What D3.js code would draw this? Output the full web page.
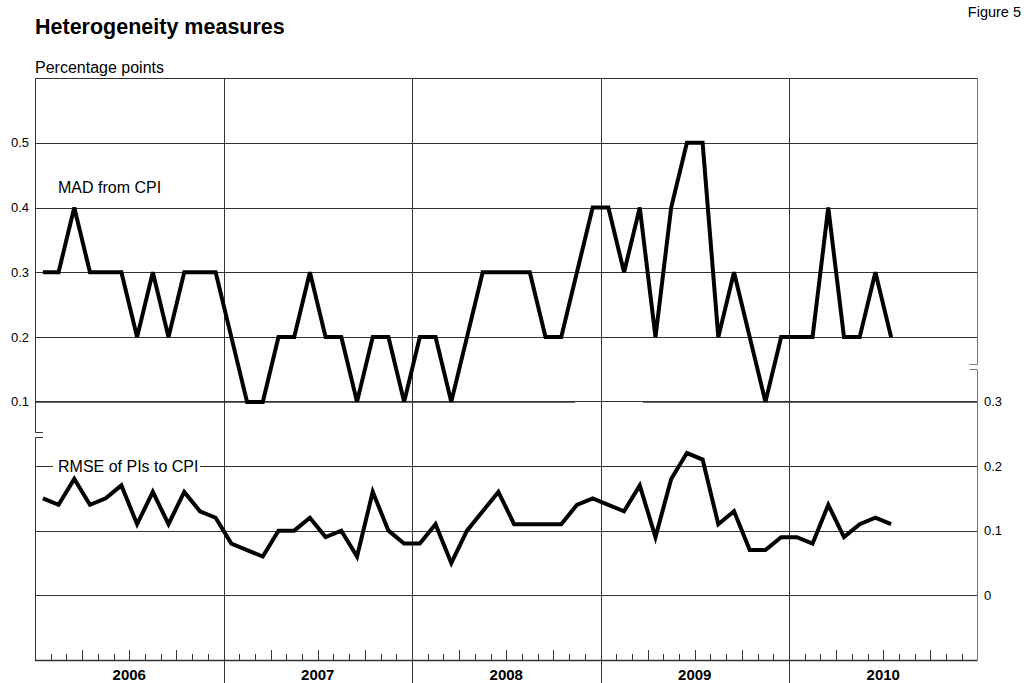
<!DOCTYPE html>
<html>
<head>
<meta charset="utf-8">
<script src="https://cdn.jsdelivr.net/npm/d3@7"></script>
<style>
  body { margin: 0; background: #fff; }
  svg { display: block; font-family: "Liberation Sans", Arial, sans-serif; }
</style>
</head>
<body>
<div id="chart"></div>
<script>
// data: monthly, Jan 2006 - Jul 2010
const YEARS = ["2006", "2007", "2008", "2009", "2010"]
const MAD = [
  0.3, 0.3, 0.4, 0.3, 0.3, 0.3, 0.2, 0.3, 0.2, 0.3, 0.3, 0.3,
  0.2, 0.1, 0.1, 0.2, 0.2, 0.3, 0.2, 0.2, 0.1, 0.2, 0.2, 0.1,
  0.2, 0.2, 0.1, 0.2, 0.3, 0.3, 0.3, 0.3, 0.2, 0.2, 0.3, 0.4,
  0.4, 0.3, 0.4, 0.2, 0.4, 0.5, 0.5, 0.2, 0.3, 0.2, 0.1, 0.2,
  0.2, 0.2, 0.4, 0.2, 0.2, 0.3, 0.2,
]
const RMSE = [
  0.15, 0.14, 0.18, 0.14, 0.15, 0.17, 0.11, 0.16, 0.11, 0.16, 0.13, 0.12,
  0.08, 0.07, 0.06, 0.10, 0.10, 0.12, 0.09, 0.10, 0.06, 0.16, 0.10, 0.08,
  0.08, 0.11, 0.05, 0.10, 0.13, 0.16, 0.11, 0.11, 0.11, 0.11, 0.14, 0.15,
  0.14, 0.13, 0.17, 0.09, 0.18, 0.22, 0.21, 0.11, 0.13, 0.07, 0.07, 0.09,
  0.09, 0.08, 0.14, 0.09, 0.11, 0.12, 0.11,
]
const LEFT_TICKS = [0.1, 0.2, 0.3, 0.4, 0.5]
const RIGHT_TICKS = [0, 0.1, 0.2, 0.3]

const width = 1024
const height = 683
const plotLeft = 35
const plotRight = 977.5
const plotTop = 78
const plotBottom = 660

const svg = d3.select("#chart").append("svg")
  .attr("width", width)
  .attr("height", height)

// scales
const x = d3.scaleLinear().domain([0, YEARS.length * 12]).range([plotLeft, plotRight])
const yL = d3.scaleLinear().domain([-0.3, 0.6]).range([661, plotTop])
const yR = d3.scaleLinear().domain([-0.1, 0.8]).range([plotBottom, plotTop])

const grid = svg.append("g").attr("stroke", "#333").attr("stroke-width", 1)

// left-scale gridlines (0.1 has a gap)
LEFT_TICKS.forEach((v) => {
  const yy = Math.round(yL(v)) + 0.5
  if (v === 0.1) {
    grid.append("line").attr("x1", plotLeft).attr("x2", 575).attr("y1", yy).attr("y2", yy).attr("stroke", "#666")
    grid.append("line").attr("x1", 643).attr("x2", plotRight).attr("y1", yy).attr("y2", yy).attr("stroke", "#666")
  } else {
    grid.append("line").attr("x1", plotLeft).attr("x2", plotRight).attr("y1", yy).attr("y2", yy)
  }
})

// right-scale gridlines (0.2 is broken by the label)
RIGHT_TICKS.forEach((v) => {
  const yy = Math.round(yR(v)) + 0.5
  if (v === 0.2) {
    grid.append("line").attr("x1", plotLeft).attr("x2", 53).attr("y1", yy).attr("y2", yy)
    grid.append("line").attr("x1", 200).attr("x2", plotRight).attr("y1", yy).attr("y2", yy)
  } else {
    grid.append("line").attr("x1", plotLeft).attr("x2", plotRight).attr("y1", yy).attr("y2", yy)
  }
})

// year separators
d3.range(1, YEARS.length).forEach((k) => {
  const xx = Math.round(x(k * 12)) + 0.5
  grid.append("line").attr("x1", xx).attr("x2", xx).attr("y1", plotTop).attr("y2", height)
})

// frame: top, bottom, and broken side axes
const frame = svg.append("g").attr("stroke", "#333").attr("fill", "none").attr("stroke-width", 1)
frame.append("line").attr("x1", plotLeft).attr("x2", plotRight).attr("y1", plotTop + 0.5).attr("y2", plotTop + 0.5)
frame.append("line").attr("x1", plotLeft).attr("x2", plotRight).attr("y1", plotBottom + 0.5).attr("y2", plotBottom + 0.5).attr("stroke-width", 1.5)
frame.append("path").attr("d", `M${plotLeft + 8},432.5H${plotLeft + 0.5}V${plotTop}`)
frame.append("path").attr("d", `M${plotLeft + 8},437.5H${plotLeft + 0.5}V${plotBottom}`)
frame.append("path").attr("stroke", "#777").attr("d", `M${plotRight - 8},364.5H${plotRight}V${plotTop}`)
frame.append("path").attr("stroke", "#777").attr("d", `M${plotRight - 8},369.5H${plotRight}V${plotBottom}`)

// month ticks on bottom axis
d3.range(0, YEARS.length * 12).filter((m) => m % 12 !== 0).forEach((m) => {
  const xx = Math.round(x(m)) + 0.5
  const len = m % 3 === 0 ? 10 : 6
  frame.append("line").attr("x1", xx).attr("x2", xx).attr("y1", plotBottom).attr("y2", plotBottom - len)
})

// tick labels
svg.append("g").selectAll("text").data(LEFT_TICKS).join("text")
  .attr("x", 29).attr("y", (d) => yL(d)).attr("dy", "0.35em")
  .attr("text-anchor", "end").attr("font-size", 13)
  .text((d) => d3.format(".1f")(d))

svg.append("g").selectAll("text").data(RIGHT_TICKS).join("text")
  .attr("x", 984).attr("y", (d) => yR(d)).attr("dy", "0.35em")
  .attr("font-size", 13)
  .text((d) => (d === 0 ? "0" : d3.format(".1f")(d)))

svg.append("g").selectAll("text").data(YEARS).join("text")
  .attr("x", (d, i) => x(i * 12 + 6)).attr("y", 680)
  .attr("text-anchor", "middle").attr("font-size", 15).attr("font-weight", "bold")
  .text((d) => d)

// series lines
const xm = (d, i) => x(i + 0.5)
svg.append("path").datum(MAD)
  .attr("fill", "none").attr("stroke", "#000").attr("stroke-width", 4).attr("stroke-linejoin", "miter")
  .attr("d", d3.line().x(xm).y((d) => yL(d)))
svg.append("path").datum(RMSE)
  .attr("fill", "none").attr("stroke", "#000").attr("stroke-width", 4).attr("stroke-linejoin", "miter")
  .attr("d", d3.line().x(xm).y((d) => yR(d)))

// texts
svg.append("text").attr("x", 35).attr("y", 34)
  .attr("font-size", 21.5).attr("font-weight", "bold").text("Heterogeneity measures")
svg.append("text").attr("x", 1021).attr("y", 17).attr("text-anchor", "end")
  .attr("font-size", 14.5).text("Figure 5")
svg.append("text").attr("x", 35).attr("y", 73).attr("font-size", 16).text("Percentage points")
svg.append("text").attr("x", 58).attr("y", 193).attr("font-size", 16).text("MAD from CPI")
svg.append("text").attr("x", 58).attr("y", yR(0.2)).attr("dy", "0.36em").attr("font-size", 16).text("RMSE of PIs to CPI")
</script>
</body>
</html>
